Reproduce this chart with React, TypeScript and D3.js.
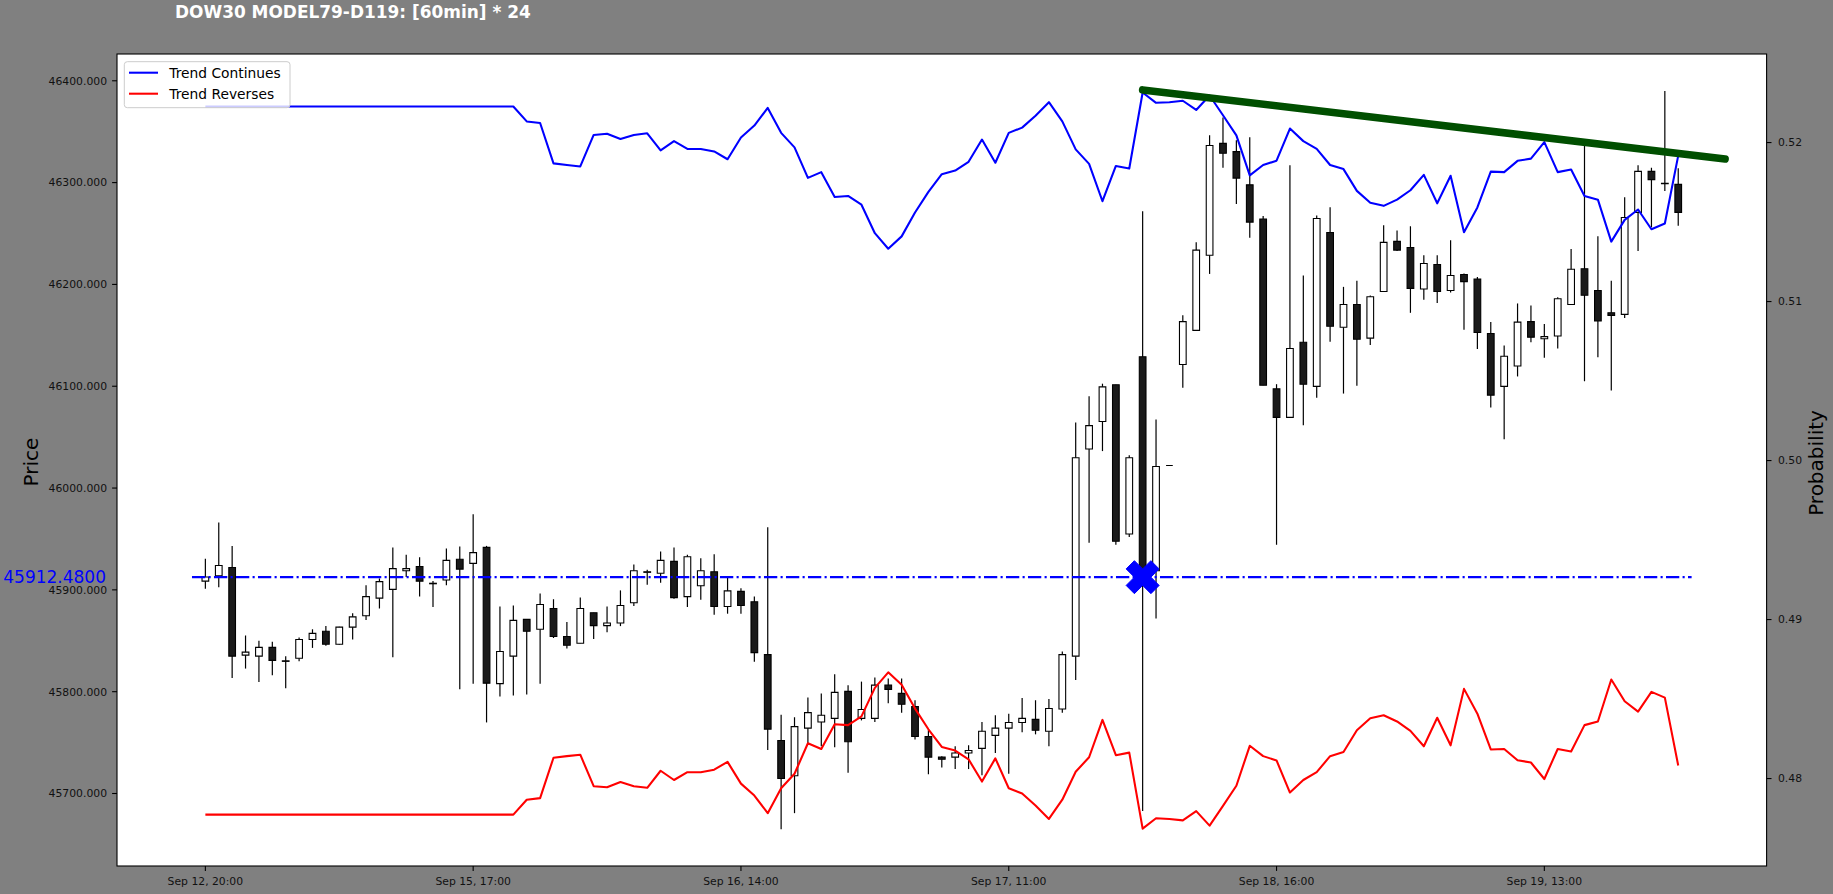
import React, { useEffect } from 'react';
import * as d3 from 'd3';

// OHLC per 60min bar, index 0..110
const openPrices = [
  45908.6, 45913.7, 45921.9, 45835.9, 45834.9, 45843.5, 45830.3, 45832.8, 45851.2, 45859.3,
  45846.6, 45863.4, 45874.6, 45891.9, 45900.5, 45918.8, 45922.9, 45906.5, 45909.7, 45930.0,
  45926.0, 45941.7, 45807.9, 45834.9, 45871.0, 45861.3, 45881.7, 45854.2, 45847.6, 45877.6,
  45864.9, 45867.4, 45887.3, 45917.2, 45916.3, 45928.0, 45893.4, 45904.1, 45917.8, 45883.7,
  45898.5, 45888.3, 45836.4, 45752.0, 45717.4, 45764.2, 45770.3, 45773.8, 45800.3, 45773.8,
  45773.8, 45806.4, 45798.3, 45785.5, 45756.0, 45735.7, 45735.7, 45739.8, 45744.3, 45757.1,
  45764.2, 45769.8, 45772.8, 45761.1, 45783.0, 45834.9, 46038.4, 46065.3, 46101.4, 45954.9,
  46128.9, 45918.8, 46022.1, 46121.3, 46154.9, 46228.6, 46338.5, 46330.4, 46297.8, 46264.2,
  46097.4, 46069.4, 46143.2, 46099.9, 46251.0, 46157.9, 46180.3, 46147.2, 46193.0, 46242.3,
  46236.2, 46195.5, 46219.5, 46194.0, 46209.8, 46205.2, 46151.8, 46099.9, 46119.8, 46163.5,
  46146.7, 46149.3, 46180.3, 46215.4, 46194.0, 46172.1, 46170.6, 46270.8, 46311.0, 46299.3,
  46298.3,
];
const highPrices = [
  45930.5, 45966.1, 45943.2, 45855.2, 45850.1, 45849.1, 45834.9, 45853.2, 45861.3, 45864.4,
  45863.9, 45877.1, 45904.6, 45911.2, 45941.7, 45934.6, 45932.0, 45908.6, 45940.7, 45942.7,
  45974.3, 45943.2, 45883.7, 45884.7, 45871.0, 45896.4, 45890.8, 45868.5, 45892.4, 45877.6,
  45883.7, 45899.5, 45924.9, 45919.8, 45937.6, 45941.7, 45934.6, 45931.0, 45935.1, 45911.7,
  45901.5, 45893.4, 45961.5, 45777.4, 45774.9, 45794.2, 45798.3, 45817.1, 45806.4, 45809.9,
  45814.0, 45813.0, 45813.0, 45791.6, 45762.1, 45736.7, 45746.4, 45747.4, 45770.3, 45776.9,
  45778.4, 45793.7, 45791.6, 45792.7, 45839.5, 46064.3, 46090.2, 46102.5, 46101.4, 46032.3,
  46271.9, 46067.4, 46022.1, 46169.6, 46241.3, 46346.6, 46363.9, 46341.5, 46344.6, 46267.3,
  46102.0, 46317.1, 46208.8, 46267.8, 46275.9, 46197.6, 46203.7, 46189.0, 46258.1, 46253.0,
  46257.1, 46228.6, 46228.6, 46243.4, 46210.8, 46207.2, 46163.0, 46140.1, 46181.3, 46179.3,
  46161.0, 46187.4, 46234.7, 46335.9, 46247.4, 46203.7, 46285.6, 46317.1, 46314.6, 46389.9,
  46314.1,
];
const lowPrices = [
  45901.0, 45902.5, 45813.5, 45822.7, 45809.4, 45816.1, 45803.3, 45829.8, 45843.0, 45845.0,
  45846.1, 45851.2, 45870.5, 45881.7, 45833.9, 45912.7, 45893.4, 45883.2, 45904.6, 45802.3,
  45807.8, 45769.8, 45795.2, 45796.2, 45797.2, 45807.8, 45852.7, 45842.5, 45847.6, 45851.7,
  45858.3, 45864.4, 45884.2, 45905.1, 45907.1, 45891.4, 45883.2, 45890.3, 45875.6, 45876.6,
  45876.6, 45829.3, 45742.8, 45665.0, 45680.7, 45749.4, 45746.4, 45745.4, 45720.4, 45771.8,
  45770.3, 45788.6, 45779.4, 45753.0, 45718.9, 45725.5, 45724.0, 45724.0, 45717.9, 45739.8,
  45719.4, 45760.1, 45758.1, 45746.4, 45779.4, 45811.5, 45946.3, 46036.3, 45944.3, 45951.9,
  45682.8, 45872.0, 46022.1, 46098.4, 46154.9, 46210.3, 46314.6, 46279.0, 46245.9, 46100.9,
  45944.3, 46069.4, 46061.8, 46088.7, 46143.7, 46092.8, 46100.4, 46140.6, 46193.0, 46232.7,
  46172.1, 46184.9, 46181.8, 46192.0, 46155.4, 46136.5, 46079.1, 46048.0, 46109.6, 46143.2,
  46127.9, 46137.1, 46180.3, 46105.0, 46128.4, 46095.8, 46167.1, 46232.7, 46256.1, 46291.7,
  46257.6,
];
const closePrices = [
  45912.7, 45923.9, 45834.9, 45838.9, 45843.5, 45830.8, 45829.8, 45851.2, 45857.3, 45846.6,
  45863.4, 45873.5, 45893.4, 45908.1, 45920.9, 45920.9, 45908.6, 45906.0, 45929.0, 45920.4,
  45936.6, 45808.4, 45839.5, 45870.0, 45859.3, 45885.7, 45854.2, 45845.6, 45881.7, 45864.9,
  45867.4, 45884.7, 45918.8, 45917.8, 45929.0, 45892.4, 45932.5, 45918.8, 45883.7, 45899.0,
  45884.7, 45838.4, 45763.2, 45714.8, 45765.7, 45779.4, 45776.9, 45799.3, 45750.9, 45782.5,
  45806.4, 45802.3, 45787.6, 45756.0, 45735.7, 45733.6, 45739.8, 45742.3, 45761.1, 45764.2,
  45769.8, 45773.8, 45762.1, 45783.5, 45836.4, 46029.7, 46061.3, 46099.4, 45947.8, 46029.7,
  45912.48, 46021.1, 46022.1, 46163.5, 46233.7, 46336.5, 46328.8, 46304.4, 46261.2, 46100.9,
  46069.4, 46137.1, 46102.0, 46264.7, 46158.9, 46180.3, 46146.2, 46187.9, 46241.3, 46233.7,
  46196.1, 46220.5, 46193.0, 46208.8, 46202.7, 46152.8, 46091.3, 46129.4, 46163.0, 46148.2,
  46148.7, 46185.9, 46214.9, 46189.4, 46164.0, 46169.6, 46265.7, 46311.0, 46302.9, 46298.8,
  46270.8,
];

// model probabilities (right axis)
const trendContinues = [
  0.52227, 0.52227, 0.52227, 0.52227, 0.52227, 0.52227, 0.52227, 0.52227, 0.52227, 0.52227,
  0.52227, 0.52227, 0.52227, 0.52227, 0.52227, 0.52227, 0.52227, 0.52227, 0.52227, 0.52227,
  0.52227, 0.52227, 0.52227, 0.52227, 0.52133, 0.52123, 0.51869, 0.51859, 0.51850, 0.52048,
  0.52055, 0.52022, 0.52048, 0.52058, 0.51951, 0.52009, 0.51960, 0.51960, 0.51944, 0.51895,
  0.52032, 0.52107, 0.52218, 0.52061, 0.51970, 0.51778, 0.51814, 0.51658, 0.51664, 0.51609,
  0.51430, 0.51332, 0.51410, 0.51560, 0.51690, 0.51801, 0.51824, 0.51879, 0.52019, 0.51873,
  0.52061, 0.52094, 0.52169, 0.52254, 0.52133, 0.51957, 0.51866, 0.51631, 0.51853, 0.51837,
  0.52315, 0.52250, 0.52254, 0.52263, 0.52205, 0.52296, 0.52172, 0.52045, 0.51794, 0.51859,
  0.51886, 0.52088, 0.52009, 0.51960, 0.51859, 0.51833, 0.51696, 0.51621, 0.51602, 0.51641,
  0.51700, 0.51797, 0.51618, 0.51791, 0.51436, 0.51592, 0.51817, 0.51814, 0.51885, 0.51899,
  0.52003, 0.51814, 0.51830, 0.51664, 0.51641, 0.51377, 0.51514, 0.51579, 0.51455, 0.51491,
  0.51918,
];
const trendReverses = [
  0.47773, 0.47773, 0.47773, 0.47773, 0.47773, 0.47773, 0.47773, 0.47773, 0.47773, 0.47773,
  0.47773, 0.47773, 0.47773, 0.47773, 0.47773, 0.47773, 0.47773, 0.47773, 0.47773, 0.47773,
  0.47773, 0.47773, 0.47773, 0.47773, 0.47867, 0.47877, 0.48131, 0.48141, 0.48150, 0.47952,
  0.47945, 0.47978, 0.47952, 0.47942, 0.48049, 0.47991, 0.48040, 0.48040, 0.48056, 0.48105,
  0.47968, 0.47893, 0.47782, 0.47939, 0.48030, 0.48222, 0.48186, 0.48342, 0.48336, 0.48391,
  0.48570, 0.48668, 0.48590, 0.48440, 0.48310, 0.48199, 0.48176, 0.48121, 0.47981, 0.48127,
  0.47939, 0.47906, 0.47831, 0.47746, 0.47867, 0.48043, 0.48134, 0.48369, 0.48147, 0.48163,
  0.47685, 0.47750, 0.47746, 0.47737, 0.47795, 0.47704, 0.47828, 0.47955, 0.48206, 0.48141,
  0.48114, 0.47912, 0.47991, 0.48040, 0.48141, 0.48167, 0.48304, 0.48379, 0.48398, 0.48359,
  0.48300, 0.48203, 0.48382, 0.48209, 0.48564, 0.48408, 0.48183, 0.48186, 0.48115, 0.48101,
  0.47997, 0.48186, 0.48170, 0.48336, 0.48359, 0.48623, 0.48486, 0.48421, 0.48545, 0.48509,
  0.48082,
];

const xTickIndex = [0, 20, 40, 60, 80, 100];
const xTickLabels = ['Sep 12, 20:00', 'Sep 15, 17:00', 'Sep 16, 14:00', 'Sep 17, 11:00', 'Sep 18, 16:00', 'Sep 19, 13:00'];
const priceTicks = [45700, 45800, 45900, 46000, 46100, 46200, 46300, 46400];
const probTicks = [0.48, 0.49, 0.5, 0.51, 0.52];

const signalIndex = 70;
const signalPrice = 45912.48;
const signalSpan = [-1, 111];
const slopeIndex = [70, 113.5];
const slopeProb = [0.52331, 0.51897];

const W = 1833;
const H = 894;
const left = 117;
const right = 1766.6;
const top = 54;
const bottom = 866;
const font = 'DejaVu Sans';

const App: React.FC = () => {
  useEffect(() => {
    document.body.style.margin = '0';
    document.body.style.background = '#808080';
  }, []);

  const x = d3.scaleLinear().domain([-6.6, 116.6]).range([left, right]);
  const yPrice = d3.scaleLinear().domain([45628.8, 46426.3]).range([bottom, top]);
  const yProb = d3.scaleLinear().domain([0.4745, 0.52557]).range([bottom, top]);

  const probLine = d3
    .line<number>()
    .x((_, i) => x(i))
    .y(d => yProb(d));

  const slopeLine = d3
    .line<number>()
    .x((d, i) => x(slopeIndex[i]))
    .y(d => yProb(d));

  const half = 0.25;
  const mx = x(signalIndex);
  const my = yPrice(signalPrice);
  const s = 8.25;
  const xPts = [[-1, -2], [0, -1], [1, -2], [2, -1], [1, 0], [2, 1], [1, 2], [0, 1], [-1, 2], [-2, 1], [-1, 0], [-2, -1]];
  const xMarker = 'M' + xPts.map(p => `${mx + p[0] * s},${my + p[1] * s}`).join('L') + 'Z';

  return (
    <svg width={W} height={H} style={{ display: 'block', background: '#808080' }} fontFamily={font}>
      <defs>
        <clipPath id="plotClip">
          <rect x={left} y={top} width={right - left} height={bottom - top} />
        </clipPath>
      </defs>

      <text x={175} y={18.3} fill="#ffffff" fontWeight="bold" fontSize={16.95}>
        DOW30 MODEL79-D119: [60min] * 24
      </text>

      <rect x={left} y={top} width={right - left} height={bottom - top} fill="#ffffff" />

      <g clipPath="url(#plotClip)">
        {/* candles */}
        {openPrices.map((o, i) => {
          const c = closePrices[i];
          const up = c >= o;
          const x0 = x(i - half);
          const x1 = x(i + half);
          const y0 = yPrice(Math.max(o, c));
          const y1 = yPrice(Math.min(o, c));
          return (
            <g key={i}>
              <line x1={x(i)} x2={x(i)} y1={yPrice(highPrices[i])} y2={yPrice(lowPrices[i])} stroke="#000" strokeWidth={1.2} />
              <path
                d={`M${x0},${y0}H${x1}V${y1}H${x0}Z`}
                fill={up ? '#ffffff' : '#1a1a1a'}
                stroke="#000"
                strokeWidth={1.1}
              />
            </g>
          );
        })}

        <line
          x1={x(signalSpan[0])}
          x2={x(signalSpan[1])}
          y1={my}
          y2={my}
          stroke="#0000ff"
          strokeWidth={2.08}
          strokeDasharray="13.3 3.3 2.1 3.3"
        />

        <path d={probLine(trendContinues) || ''} fill="none" stroke="#0000ff" strokeWidth={2.08} strokeLinejoin="round" />
        <path d={probLine(trendReverses) || ''} fill="none" stroke="#ff0000" strokeWidth={2.08} strokeLinejoin="round" />

        <path d={slopeLine(slopeProb) || ''} fill="none" stroke="#004f00" strokeWidth={7.6} strokeLinecap="round" />

        <path d={xMarker} fill="#0000ff" stroke="#0000ff" strokeWidth={1} />
      </g>

      <rect x={left} y={top} width={right - left} height={bottom - top} fill="none" stroke="#000" strokeWidth={1.1} />

      {/* left axis */}
      {priceTicks.map(t => (
        <g key={t}>
          <line x1={left - 4.9} x2={left} y1={yPrice(t)} y2={yPrice(t)} stroke="#000" strokeWidth={1.1} />
          <text x={107} y={yPrice(t)} dy="0.36em" textAnchor="end" fontSize={10.8} fill="#111">
            {d3.format('.3f')(t)}
          </text>
        </g>
      ))}
      <text transform={`translate(38.3,462) rotate(-90)`} textAnchor="middle" fontSize={20} fill="#000">
        Price
      </text>
      <text x={106} y={my} dy="0.36em" textAnchor="end" fontSize={17} fill="#0000ff">
        {d3.format('.4f')(signalPrice)}
      </text>

      {/* right axis */}
      {probTicks.map(t => (
        <g key={t}>
          <line x1={right} x2={right + 4.9} y1={yProb(t)} y2={yProb(t)} stroke="#000" strokeWidth={1.1} />
          <text x={1778} y={yProb(t)} dy="0.36em" textAnchor="start" fontSize={10.8} fill="#111">
            {d3.format('.2f')(t)}
          </text>
        </g>
      ))}
      <text transform={`translate(1823,463) rotate(-90)`} textAnchor="middle" fontSize={20} fill="#000">
        Probability
      </text>

      {/* bottom axis */}
      {xTickIndex.map((t, k) => (
        <g key={t}>
          <line x1={x(t)} x2={x(t)} y1={bottom} y2={bottom + 4.9} stroke="#000" strokeWidth={1.1} />
          <text x={x(t)} y={885} textAnchor="middle" fontSize={10.8} fill="#111">
            {xTickLabels[k]}
          </text>
        </g>
      ))}

      {/* legend */}
      <g>
        <rect x={124.3} y={61.7} width={165.7} height={46} rx={3} fill="#ffffff" fillOpacity={0.8} stroke="#cccccc" strokeWidth={1} />
        <line x1={129} x2={158} y1={72.7} y2={72.7} stroke="#0000ff" strokeWidth={2.08} />
        <text x={169.3} y={77.6} fontSize={13.8} fill="#000">Trend Continues</text>
        <line x1={129} x2={158} y1={93.7} y2={93.7} stroke="#ff0000" strokeWidth={2.08} />
        <text x={169.3} y={98.6} fontSize={13.8} fill="#000">Trend Reverses</text>
      </g>
    </svg>
  );
};

export default App;
